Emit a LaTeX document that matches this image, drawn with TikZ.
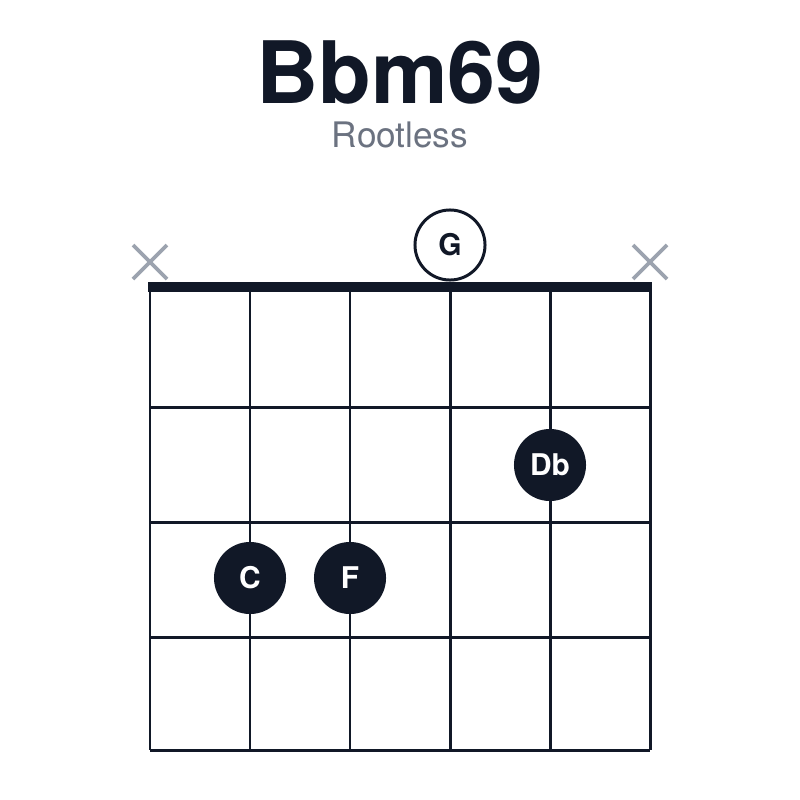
\documentclass[tikz,border=0pt]{standalone}
\usepackage{fontspec}
\setmainfont{TeX Gyre Heros}
\definecolor{ink}{HTML}{111827}
\definecolor{mute}{HTML}{6B7280}
\definecolor{cross}{HTML}{9CA3AF}
\begin{document}
\begin{tikzpicture}[x=0.01cm, y=-0.01cm,
  fret/.style={ink, line width=0.85pt},
  finger/.style={circle, fill=ink, minimum size=0.72cm, inner sep=0pt, text=white, font=\fontsize{8.5}{9}\selectfont\bfseries},
  open/.style={circle, draw=ink, fill=white, line width=0.85pt, minimum size=0.7cm, inner sep=0pt, text=ink, font=\fontsize{8.5}{9}\selectfont\bfseries},
  mute/.style={cross, line width=1.1pt}]
  \useasboundingbox (0,0) rectangle (800,800);

  % titles
  \node[text=ink, font=\fontsize{24.5}{26}\selectfont\bfseries] (title) at (400,72) {Bbm69};
  \node[text=mute, font=\fontsize{10}{11}\selectfont] (sub) at (400,135) {Rootless};

  % grid
  \foreach \x in {150,250,...,650}
    \draw[fret] (\x,287) -- (\x,750);
  \foreach \y in {407,522,637,750}
    \draw[fret] (150,\y) -- (650,\y);
  \draw[ink, line width=2.6pt] (148,287) -- (652,287);

  % muted strings
  \foreach \x in {150,650}
    \draw[mute] (\x-17,245) -- (\x+17,279) (\x-17,279) -- (\x+17,245);

  % notes
  \node[open] (g) at (450,245) {G};
  \node[finger] (db) at (550,465) {Db};
  \node[finger] (c) at (250,578) {C};
  \node[finger] (f) at (350,578) {F};
\end{tikzpicture}
\end{document}
